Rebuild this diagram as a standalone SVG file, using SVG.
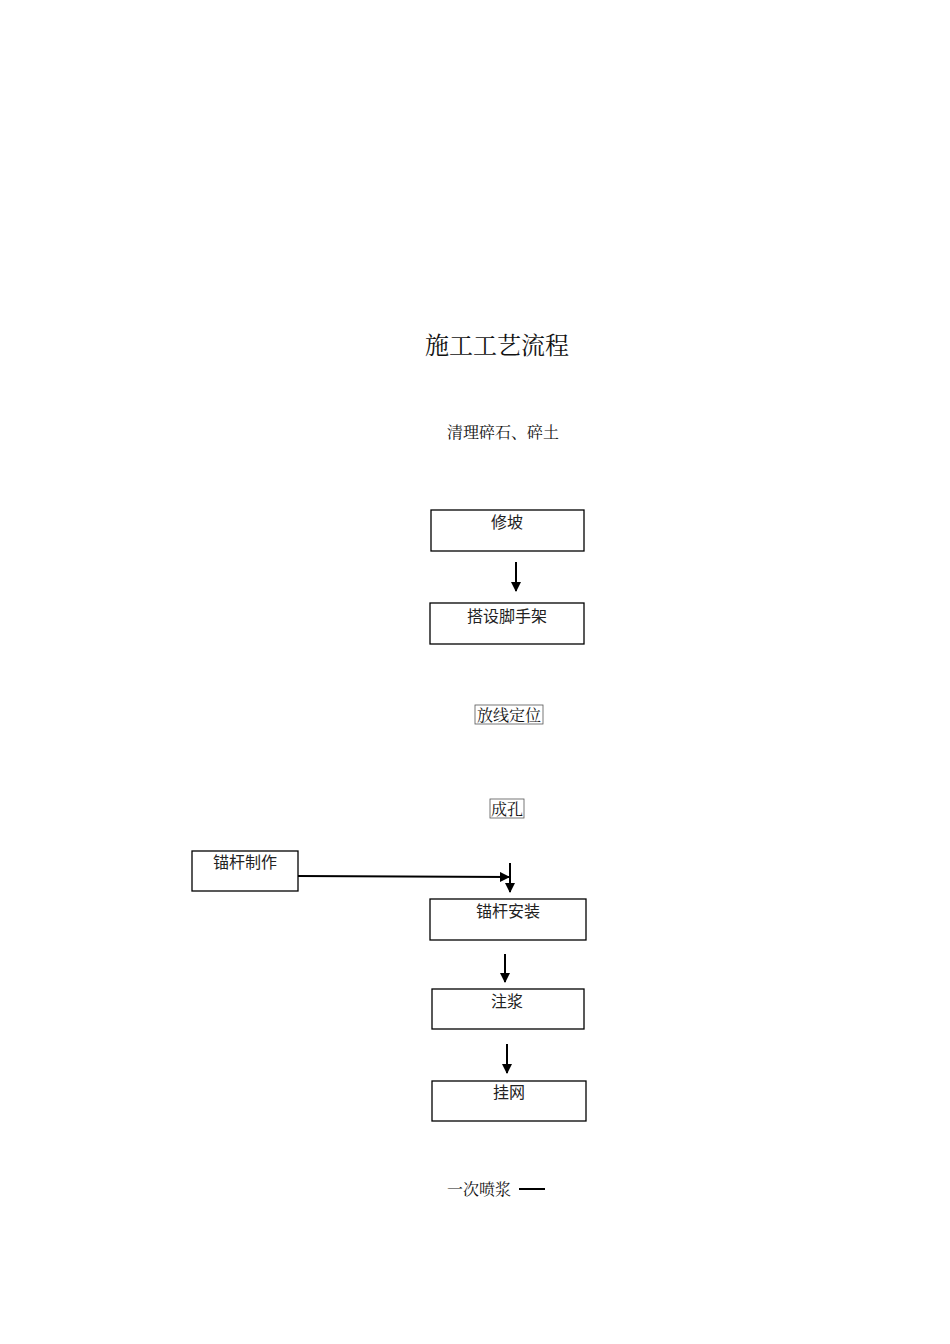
<svg xmlns="http://www.w3.org/2000/svg" width="950" height="1344" viewBox="0 0 950 1344">
<style>
.b{fill:#fff;stroke:#000;stroke-width:1.3}
.s{fill:#fff;stroke:#555;stroke-width:0.8}
.t{font-family:"Noto Sans CJK SC",sans-serif;font-size:16px;fill:#222;text-anchor:middle}
.r{font-family:"Noto Serif CJK SC","Noto Sans CJK SC",serif;font-size:16px;fill:#111;text-anchor:middle}
.c{stroke:#000;stroke-width:2;fill:none}
</style>
<defs><marker id="a" markerWidth="10" markerHeight="10" refX="9" refY="5" orient="auto" markerUnits="userSpaceOnUse"><path d="M0,0L10,5L0,10z"/></marker></defs>
<rect width="950" height="1344" fill="#fff"/>
<text x="497" y="354" class="r" style="font-size:24px">施工工艺流程</text>
<text x="503" y="438" class="r">清理碎石、碎土</text>
<g id="n1"><rect x="431" y="510" width="153" height="41" class="b"/><text x="507" y="528" class="t">修坡</text></g>
<g id="n2"><rect x="430" y="603" width="154" height="41" class="b"/><text x="507" y="622" class="t">搭设脚手架</text></g>
<g id="n3"><rect x="475" y="705" width="68" height="19" class="s"/><text x="509" y="721" class="r">放线定位</text></g>
<g id="n4"><rect x="490" y="799" width="34" height="19" class="s"/><text x="507" y="815" class="r">成孔</text></g>
<g id="n5"><rect x="192" y="851" width="106" height="40" class="b"/><text x="245" y="868" class="t">锚杆制作</text></g>
<g id="n6"><rect x="430" y="899" width="156" height="41" class="b"/><text x="508" y="917" class="t">锚杆安装</text></g>
<g id="n7"><rect x="432" y="989" width="152" height="40" class="b"/><text x="507" y="1007" class="t">注浆</text></g>
<g id="n8"><rect x="432" y="1081" width="154" height="40" class="b"/><text x="509" y="1098" class="t">挂网</text></g>
<g id="n9"><text x="479" y="1195" class="r">一次喷浆</text></g>
<g id="conn">
<line x1="516" y1="562" x2="516" y2="591" class="c" marker-end="url(#a)"/>
<line x1="298" y1="876" x2="509" y2="877" class="c" marker-end="url(#a)"/>
<line x1="510" y1="863" x2="510" y2="892" class="c" marker-end="url(#a)"/>
<line x1="505" y1="954" x2="505" y2="982" class="c" marker-end="url(#a)"/>
<line x1="507" y1="1044" x2="507" y2="1073" class="c" marker-end="url(#a)"/>
<line x1="519" y1="1189" x2="545" y2="1189" class="c"/>
</g>
</svg>
